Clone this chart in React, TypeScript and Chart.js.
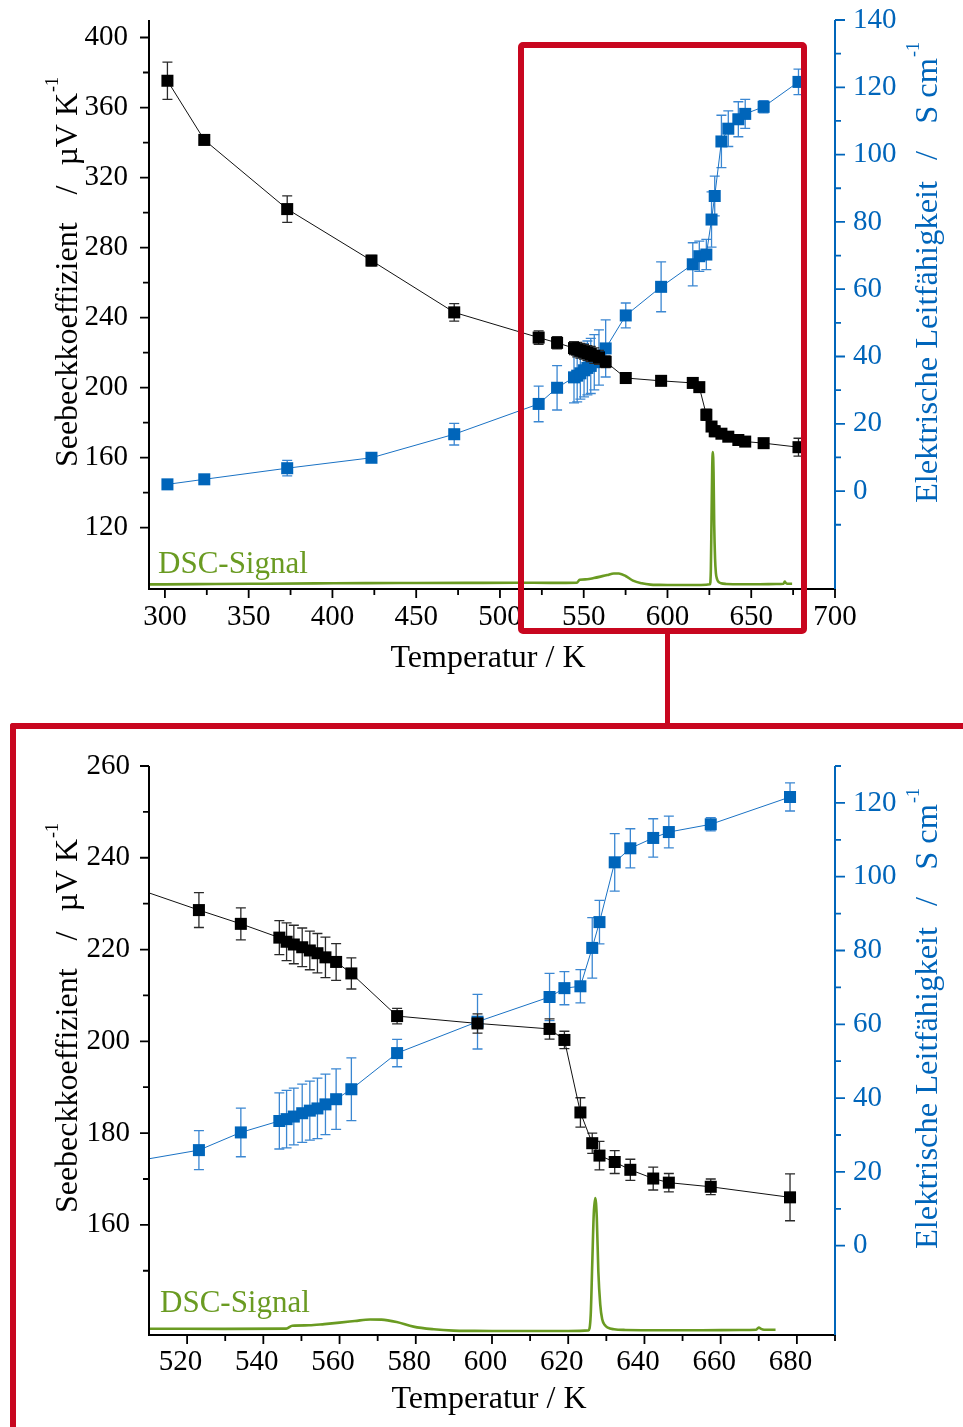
import React, { useEffect, useRef } from 'react';
import { Chart, registerables } from 'chart.js';

Chart.register(...registerables);

// ---------------- data ----------------
const temperature = [301.5, 323.5, 373.0, 423.3, 472.7, 523.1, 534.1, 544.2, 546.1, 548.0, 550.2, 552.2, 554.2, 556.3, 559.1, 563.1, 575.1, 596.2, 615.1, 619.0, 623.2, 626.3, 628.2, 632.2, 636.3, 642.3, 646.4, 657.4, 678.2];
const seebeck = [375.3, 341.5, 302.0, 272.6, 243.0, 228.6, 225.6, 222.6, 221.7, 221.1, 220.5, 219.8, 219.2, 218.3, 217.3, 214.8, 205.5, 203.9, 202.7, 200.3, 184.5, 177.8, 175.1, 173.7, 172.0, 170.1, 169.2, 168.3, 166.0];
const seebeckErr = [10.6, 2.0, 7.6, 3.0, 5.0, 3.8, 3.5, 3.7, 4.1, 4.2, 4.2, 4.2, 4.3, 4.4, 4.0, 3.4, 1.7, 2.1, 2.2, 1.9, 3.2, 2.2, 3.1, 2.5, 2.3, 2.5, 2.0, 1.7, 5.1];
const conductivity = [2.0, 3.5, 6.8, 9.9, 16.9, 25.9, 30.7, 33.8, 34.3, 35.0, 35.9, 36.6, 37.2, 38.3, 39.7, 42.4, 52.2, 60.7, 67.4, 69.8, 70.3, 80.7, 87.7, 103.9, 107.7, 110.5, 112.1, 114.2, 121.6];
const conductivityErr = [0.6, 0.6, 2.3, 1.0, 3.2, 5.3, 6.6, 7.6, 7.8, 7.7, 7.9, 8.0, 8.2, 8.2, 8.2, 8.5, 3.7, 7.4, 6.4, 4.5, 4.5, 8.2, 5.9, 7.8, 5.3, 5.2, 4.3, 1.8, 3.8];

const dscTemperature = [290.5, 300, 330, 360, 390, 420, 450, 480, 510, 530, 546, 547.6, 552, 556, 560, 564, 568, 571, 575, 579.4, 584.7, 589.9, 595, 600, 610, 620, 625.3, 625.9, 626.3, 626.7, 627.1, 627.5, 627.9, 628.4, 628.9, 629.6, 630.4, 632, 635, 645, 655, 665, 669.3, 670.0, 670.6, 671.4, 674.4];
const dscSignal = [0.5, 0.5, 0.8, 1.0, 1.2, 1.4, 1.5, 1.6, 1.7, 1.6, 1.8, 4.0, 4.3, 5.2, 6.3, 7.5, 8.7, 8.6, 6.8, 3.3, 1.3, 0.3, 0.1, 0.0, 0.0, 0.0, 0.5, 12, 50, 88, 100, 85, 45, 20, 9, 4.5, 2.5, 1.3, 0.8, 0.6, 0.6, 0.8, 1.0, 2.6, 1.6, 1.0, 0.9];

// tick labels
const topXTicks = [300, 350, 400, 450, 500, 550, 600, 650, 700];
const topXMinor = [325, 375, 425, 475, 525, 575, 625, 675];
const topLeftTicks = [120, 160, 200, 240, 280, 320, 360, 400];
const topLeftMinor = [140, 180, 220, 260, 300, 340, 380];
const topRightTicks = [0, 20, 40, 60, 80, 100, 120, 140];
const topRightMinor = [-10, 10, 30, 50, 70, 90, 110, 130];
const botXTicks = [520, 540, 560, 580, 600, 620, 640, 660, 680];
const botXMinor = [530, 550, 570, 590, 610, 630, 650, 670, 690];
const botLeftTicks = [160, 180, 200, 220, 240, 260];
const botLeftMinor = [150, 170, 190, 210, 230, 250];
const botRightTicks = [0, 20, 40, 60, 80, 100, 120];
const botRightMinor = [10, 30, 50, 70, 90, 110, 130];

const xTitle = 'Temperatur / K';
const leftTitle = ['Seebeckkoeffizient', '/', 'µV K', '-1'];
const rightTitle = ['Elektrische Leitfähigkeit', '/', 'S cm', '-1'];
const dscLabel = 'DSC-Signal';

// ---------------- styles ----------------
const FONT = '"Liberation Serif", "Times New Roman", serif';
const BLACK = '#000000';
const BLACK_ERR = '#2a2a2a';
const BLUE = '#0065ba';
const BLUE_ERR = '#3b87d2';
const GREEN = '#6a9b22';
const RED = '#c8061f';

interface Panel {
  width: number;
  height: number;
  area: { left: number; right: number; top: number; bottom: number };
  xMin: number; xMax: number; xTicks: number[]; xMinor: number[]; xLabelOffset: number; xPad: number;
  yMin: number; yMax: number; yTicks: number[]; yMinor: number[]; yPad: number;
  y2Min: number; y2Max: number; y2Ticks: number[]; y2Minor: number[]; y2Pad: number;
  xTitlePos: { x: number; y: number };
  yTitlePos: { x: number; cy: number };
  y2TitlePos: { x: number; cy: number };
  dscPos: { x: number; y: number };
}

type Piece = { text: string; size: number; gap?: number; rise?: number };

function drawRich(ctx: CanvasRenderingContext2D, pieces: Piece[], x: number, y: number, rot: number, color: string) {
  ctx.save();
  ctx.translate(x, y);
  ctx.rotate(rot);
  ctx.fillStyle = color;
  ctx.textBaseline = 'alphabetic';
  ctx.textAlign = 'left';
  const widths = pieces.map((p) => {
    ctx.font = `${p.size}px ${FONT}`;
    return ctx.measureText(p.text).width;
  });
  let total = 0;
  pieces.forEach((p, i) => { total += (p.gap || 0) + widths[i]; });
  let cx = -total / 2;
  pieces.forEach((p, i) => {
    cx += p.gap || 0;
    ctx.font = `${p.size}px ${FONT}`;
    ctx.fillText(p.text, cx, -(p.rise || 0));
    cx += widths[i];
  });
  ctx.restore();
}

function zeroPad(s: any) {
  s.paddingTop = 0;
  s.paddingBottom = 0;
  s.paddingLeft = 0;
  s.paddingRight = 0;
}

function ChartPanel({ cfg }: { cfg: Panel }) {
  const ref = useRef<HTMLCanvasElement | null>(null);
  useEffect(() => {
    if (!ref.current) return;
    const tickFont = { family: FONT, size: 29 };

    const deco = {
      id: 'deco',
      beforeDatasetDraw(chart: any, args: any) {
        const ds: any = chart.data.datasets[args.index];
        if (!ds.errorBars) return;
        const ctx: CanvasRenderingContext2D = chart.ctx;
        const xs = chart.scales.x;
        const ys = chart.scales[args.meta.yAxisID];
        const a = chart.chartArea;
        ctx.save();
        ctx.beginPath();
        ctx.rect(a.left, a.top - 10, a.right - a.left, a.bottom - a.top + 10);
        ctx.clip();
        ctx.strokeStyle = ds.errorColor;
        ctx.lineWidth = 1.3;
        ds.data.forEach((pt: any, i: number) => {
          const e = ds.errorBars[i];
          const px = xs.getPixelForValue(pt.x);
          if (px < a.left - 2 || px > a.right + 2) return;
          const yHi = ys.getPixelForValue(pt.y + e);
          const yLo = ys.getPixelForValue(pt.y - e);
          ctx.beginPath();
          ctx.moveTo(px, yHi); ctx.lineTo(px, yLo);
          ctx.moveTo(px - 5, yHi); ctx.lineTo(px + 5, yHi);
          ctx.moveTo(px - 5, yLo); ctx.lineTo(px + 5, yLo);
          ctx.stroke();
        });
        ctx.restore();
      },
      afterDraw(chart: any) {
        const ctx: CanvasRenderingContext2D = chart.ctx;
        const a = chart.chartArea;
        const xs = chart.scales.x;
        const ys = chart.scales.y;
        const y2 = chart.scales.y2;
        ctx.save();
        // axes lines
        ctx.lineWidth = 2;
        ctx.strokeStyle = BLACK;
        ctx.beginPath();
        ctx.moveTo(a.left, a.top); ctx.lineTo(a.left, a.bottom); ctx.lineTo(a.right, a.bottom);
        ctx.stroke();
        ctx.strokeStyle = BLUE;
        ctx.beginPath();
        ctx.moveTo(a.right, a.top); ctx.lineTo(a.right, a.bottom + 1);
        ctx.stroke();
        // ticks
        ctx.lineWidth = 1.8;
        ctx.strokeStyle = BLACK;
        ctx.beginPath();
        cfg.xTicks.forEach((v) => { const p = xs.getPixelForValue(v); ctx.moveTo(p, a.bottom); ctx.lineTo(p, a.bottom + 9); });
        cfg.xMinor.forEach((v) => { const p = xs.getPixelForValue(v); ctx.moveTo(p, a.bottom); ctx.lineTo(p, a.bottom + 6); });
        cfg.yTicks.forEach((v) => { const p = ys.getPixelForValue(v); ctx.moveTo(a.left, p); ctx.lineTo(a.left - 9, p); });
        cfg.yMinor.forEach((v) => { const p = ys.getPixelForValue(v); ctx.moveTo(a.left, p); ctx.lineTo(a.left - 6, p); });
        ctx.stroke();
        ctx.strokeStyle = BLUE;
        ctx.beginPath();
        cfg.y2Ticks.forEach((v) => { const p = y2.getPixelForValue(v); ctx.moveTo(a.right, p); ctx.lineTo(a.right + 10, p); });
        cfg.y2Minor.forEach((v) => { const p = y2.getPixelForValue(v); ctx.moveTo(a.right, p); ctx.lineTo(a.right + 6, p); });
        ctx.stroke();
        ctx.restore();

        // titles
        drawRich(ctx, [{ text: xTitle, size: 32 }], cfg.xTitlePos.x, cfg.xTitlePos.y, 0, BLACK);
        drawRich(ctx, [
          { text: leftTitle[0], size: 32 },
          { text: leftTitle[1], size: 32, gap: 28 },
          { text: leftTitle[2], size: 32, gap: 20 },
          { text: leftTitle[3], size: 18, gap: 1, rise: 19 },
        ], cfg.yTitlePos.x, cfg.yTitlePos.cy, -Math.PI / 2, BLACK);
        drawRich(ctx, [
          { text: rightTitle[0], size: 32.5 },
          { text: rightTitle[1], size: 32.5, gap: 21 },
          { text: rightTitle[2], size: 32.5, gap: 27 },
          { text: rightTitle[3], size: 18, gap: 1, rise: 18 },
        ], cfg.y2TitlePos.x, cfg.y2TitlePos.cy, -Math.PI / 2, BLUE);
        ctx.save();
        ctx.font = `31px ${FONT}`;
        ctx.fillStyle = GREEN;
        ctx.textAlign = 'left';
        ctx.textBaseline = 'alphabetic';
        ctx.fillText(dscLabel, cfg.dscPos.x, cfg.dscPos.y);
        ctx.restore();
      },
    };

    const chart = new Chart(ref.current, {
      type: 'line',
      data: {
        datasets: [
          {
            label: 'Seebeck',
            data: temperature.map((t, i) => ({ x: t, y: seebeck[i] })),
            yAxisID: 'y',
            borderColor: '#111111',
            borderWidth: 1,
            backgroundColor: BLACK,
            pointStyle: 'rect',
            pointRadius: 8.5,
            pointBorderWidth: 0,
            pointBackgroundColor: BLACK,
            tension: 0,
            order: 0,
            errorBars: seebeckErr,
            errorColor: BLACK_ERR,
          } as any,
          {
            label: 'Leitfähigkeit',
            data: temperature.map((t, i) => ({ x: t, y: conductivity[i] })),
            yAxisID: 'y2',
            borderColor: '#1a72c4',
            borderWidth: 1,
            backgroundColor: BLUE,
            pointStyle: 'rect',
            pointRadius: 8.5,
            pointBorderWidth: 0,
            pointBackgroundColor: BLUE,
            tension: 0,
            order: 1,
            errorBars: conductivityErr,
            errorColor: BLUE_ERR,
          } as any,
          {
            label: 'DSC',
            data: dscTemperature.map((t, i) => ({ x: t, y: dscSignal[i] })),
            yAxisID: 'yD',
            borderColor: GREEN,
            borderWidth: 2.6,
            pointRadius: 0,
            cubicInterpolationMode: 'monotone',
            order: 2,
          } as any,
        ],
      },
      options: {
        responsive: false,
        maintainAspectRatio: false,
        animation: false,
        events: [],
        layout: { padding: { top: cfg.area.top, left: 0, right: 0, bottom: 0 } },
        plugins: { legend: { display: false }, tooltip: { enabled: false }, title: { display: false } },
        scales: {
          x: {
            type: 'linear',
            position: 'bottom',
            min: cfg.xMin,
            max: cfg.xMax,
            grid: { display: false, drawTicks: false },
            border: { display: false },
            ticks: { font: tickFont, color: BLACK, padding: cfg.xPad, labelOffset: cfg.xLabelOffset, autoSkip: false, maxRotation: 0 },
            afterBuildTicks: (s: any) => { s.ticks = cfg.xTicks.map((v) => ({ value: v })); },
            afterFit: (s: any) => { s.height = cfg.height - cfg.area.bottom; zeroPad(s); },
          },
          y: {
            type: 'linear',
            position: 'left',
            min: cfg.yMin,
            max: cfg.yMax,
            grid: { display: false, drawTicks: false },
            border: { display: false },
            ticks: { font: tickFont, color: BLACK, padding: cfg.yPad, autoSkip: false },
            afterBuildTicks: (s: any) => { s.ticks = cfg.yTicks.map((v) => ({ value: v })); },
            afterFit: (s: any) => { s.width = cfg.area.left; zeroPad(s); },
          },
          y2: {
            type: 'linear',
            position: 'right',
            min: cfg.y2Min,
            max: cfg.y2Max,
            grid: { display: false, drawTicks: false },
            border: { display: false },
            ticks: { font: tickFont, color: BLUE, padding: cfg.y2Pad, autoSkip: false },
            afterBuildTicks: (s: any) => { s.ticks = cfg.y2Ticks.map((v) => ({ value: v })); },
            afterFit: (s: any) => { s.width = cfg.width - cfg.area.right; zeroPad(s); },
          },
          yD: { type: 'linear', display: false, min: -3, max: 425 },
        },
      } as any,
      plugins: [deco],
    });
    return () => chart.destroy();
  }, [cfg]);
  return <canvas ref={ref} width={cfg.width} height={cfg.height} style={{ display: 'block', width: cfg.width, height: cfg.height }} />;
}

const topPanel: Panel = {
  width: 963, height: 700,
  area: { left: 149, right: 835, top: 20, bottom: 589 },
  xMin: 290.5, xMax: 700, xTicks: topXTicks, xMinor: topXMinor, xLabelOffset: 0, xPad: 11,
  yMin: 85, yMax: 410, yTicks: topLeftTicks, yMinor: topLeftMinor, yPad: 21,
  y2Min: -29.1, y2Max: 140, y2Ticks: topRightTicks, y2Minor: topRightMinor, y2Pad: 18,
  xTitlePos: { x: 488, y: 666.5 },
  yTitlePos: { x: 77, cy: 272 },
  y2TitlePos: { x: 937, cy: 272.5 },
  dscPos: { x: 158, y: 572.5 },
};

const bottomPanel: Panel = {
  width: 963, height: 727,
  area: { left: 149, right: 835, top: 66, bottom: 635 },
  xMin: 510, xMax: 690, xTicks: botXTicks, xMinor: botXMinor, xLabelOffset: -6.5, xPad: 10,
  yMin: 136, yMax: 260, yTicks: botLeftTicks, yMinor: botLeftMinor, yPad: 19,
  y2Min: -24.2, y2Max: 130, y2Ticks: botRightTicks, y2Minor: botRightMinor, y2Pad: 18,
  xTitlePos: { x: 489, y: 708 },
  yTitlePos: { x: 77, cy: 318 },
  y2TitlePos: { x: 937, cy: 318.5 },
  dscPos: { x: 160, y: 612.3 },
};

export default function App() {
  return (
    <div style={{ position: 'absolute', left: 0, top: 0, width: 963, height: 1427, overflow: 'hidden', background: '#ffffff' }}>
      <div style={{ position: 'absolute', left: 0, top: 0 }}>
        <ChartPanel cfg={topPanel} />
      </div>
      <div style={{ position: 'absolute', left: 0, top: 700 }}>
        <ChartPanel cfg={bottomPanel} />
      </div>
      {/* red zoom annotation */}
      <div style={{ position: 'absolute', left: 518, top: 42, width: 289, height: 592, boxSizing: 'border-box', border: `6px solid ${RED}`, borderRadius: 5 }} />
      <div style={{ position: 'absolute', left: 665, top: 632, width: 5, height: 95, background: RED }} />
      <div style={{ position: 'absolute', left: 10, top: 723, width: 953, height: 6, background: RED, borderTopLeftRadius: 3 }} />
      <div style={{ position: 'absolute', left: 10, top: 723, width: 6, height: 704, background: RED, borderTopLeftRadius: 3 }} />
    </div>
  );
}
